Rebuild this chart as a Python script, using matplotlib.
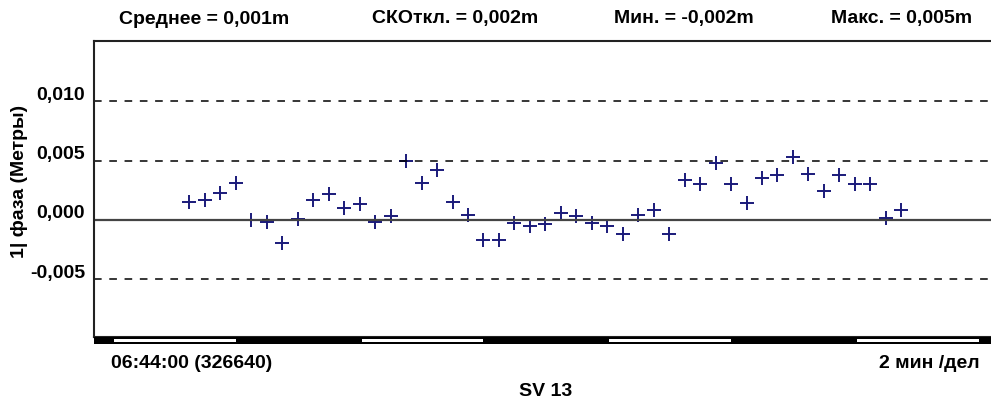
import matplotlib

matplotlib.use("Agg")
import matplotlib.pyplot as plt
import matplotlib.transforms as mtransforms
import numpy as np

plt.rcParams["font.family"] = ["Liberation Sans", "DejaVu Sans"]
plt.rcParams["font.weight"] = "bold"

# phase residuals, metres, one sample every 15 s from 06:45:33
SAMPLE_START = 93
SAMPLE_STEP = 15
phase = [
    0.00153, 0.00167, 0.00231, 0.00311, 0.00000, -0.00014, -0.00194, 0.00011,
    0.00172, 0.00222, 0.00097, 0.00131, -0.00014, 0.00033, 0.00494, 0.00311,
    0.00422, 0.00153, 0.00042, -0.00172, -0.00167, -0.00022, -0.00050, -0.00036,
    0.00061, 0.00033, -0.00022, -0.00050, -0.00117, 0.00039, 0.00083, -0.00117,
    0.00333, 0.00306, 0.00483, 0.00306, 0.00139, 0.00356, 0.00375, 0.00533,
    0.00390, 0.00242, 0.00375, 0.00306, 0.00300, 0.00014, 0.00083,
]
y_ticks = [-0.005, 0.000, 0.005, 0.010]
y_tick_labels = ["-0,005", "0,000", "0,005", "0,010"]
dashed_levels = [-0.005, 0.005, 0.010]
stats = ["Среднее = 0,001m", "СКОткл. = 0,002m", "Мин. = -0,002m", "Макс. = 0,005m"]
stat_x = [204, 455, 684, 902]
x_span = 870            # seconds across the plot
division = 120          # 2 min per division
first_division = 19

FS = 14
W, H = 991, 401
fig = plt.figure(figsize=(W / 100, H / 100), dpi=100)
left, right, top, bottom = 93.5, 991, 41.3, 337.3
ax = fig.add_axes([left / W, 1 - bottom / H, (right - left) / W, (bottom - top) / H])
strip = fig.add_axes([left / W, 1 - 343.5 / H, (right - left) / W, 6.2 / H])

t = SAMPLE_START + SAMPLE_STEP * np.arange(len(phase))
ax.plot(t, phase, linestyle="none", marker="+", markersize=10, mew=1.4,
        color="#1a1a7a")
for lev in dashed_levels:
    ax.axhline(lev, color="black", linewidth=1.1, dashes=(5, 5))
ax.axhline(0, color="#444444", linewidth=1.6)

ax.set_xlim(0, x_span)
ax.set_ylim(-0.00986, 0.01502)
ax.set_xticks([])
ax.set_yticks(y_ticks)
ax.set_yticklabels(y_tick_labels, fontsize=FS, fontweight="bold")
ax.tick_params(axis="y", length=0, pad=6)
up = mtransforms.ScaledTranslation(0, 8 / 100, fig.dpi_scale_trans)
for lab in ax.get_yticklabels():
    lab.set_transform(lab.get_transform() + up)
for s in ("left", "top", "bottom"):
    ax.spines[s].set_linewidth(1.5)
    ax.spines[s].set_color("#222222")
ax.spines["right"].set_visible(False)

# time bar under the plot
strip.set_facecolor("black")
strip.set_xlim(0, x_span)
strip.set_ylim(0, 1)
for x0 in np.arange(first_division, x_span, 2 * division):
    strip.axvspan(x0 + 1, x0 + division - 1, ymin=0.22, ymax=0.78, color="white", lw=0)
strip.set_xticks([])
strip.set_yticks([])
for s in strip.spines.values():
    s.set_visible(False)

for txt, xp in zip(stats, stat_x):
    fig.text(xp / W, 1 - 19 / H, txt, ha="center", va="center", fontsize=FS,
             fontweight="bold")
fig.text(20 / W, 1 - 181 / H, "1| фаза (Метры)", rotation=90, ha="center",
         va="center", fontsize=FS, fontweight="bold")
fig.text(111 / W, 1 - 364 / H, "06:44:00 (326640)", ha="left", va="center",
         fontsize=FS, fontweight="bold")
fig.text(980 / W, 1 - 364 / H, "2 мин /дел", ha="right", va="center",
         fontsize=FS, fontweight="bold")
fig.text(546 / W, 1 - 392 / H, "SV 13", ha="center", va="center",
         fontsize=FS, fontweight="bold")

fig.savefig("out.png", dpi=100)
